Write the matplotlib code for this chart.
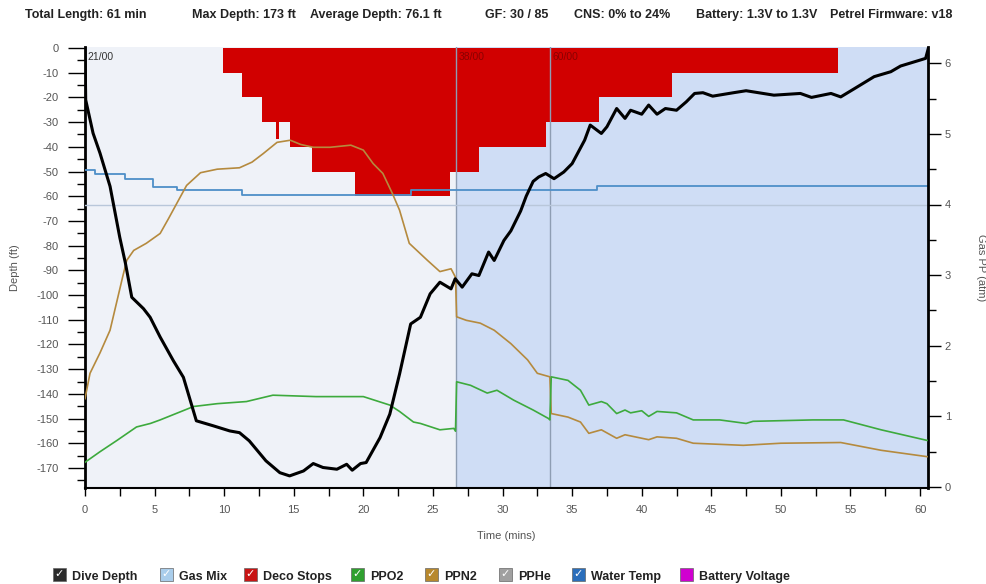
import matplotlib
matplotlib.use('Agg')
import matplotlib.pyplot as plt
from matplotlib.patches import Rectangle
from matplotlib.ticker import MultipleLocator

# Dive profile (time in minutes, depth in ft, negative = down)
depth_t = [0.0, 0.05, 0.58, 1.08, 1.8, 2.5, 2.9, 3.0, 3.36, 4.2, 4.68, 5.4, 6.35, 7.07,
           8.0, 9.2, 10.4, 11.1, 11.8, 13.0, 14.0, 14.7, 15.7, 16.4, 17.1, 18.1, 18.8,
           19.2, 19.8, 20.2, 21.2, 21.9, 22.6, 23.4, 24.1, 24.8, 25.5, 26.3, 26.6, 27.1,
           27.8, 28.3, 29.0, 29.4, 30.1, 30.6, 31.3, 31.7, 32.2, 32.6, 33.1, 33.7, 34.4,
           35.0, 35.9, 36.3, 37.1, 37.5, 38.2, 38.8, 39.2, 40.0, 40.5, 41.1, 41.7, 42.5,
           43.2, 43.8, 44.4, 45.1, 46.6, 47.5, 49.5, 51.4, 52.2, 53.6, 54.3, 55.3, 56.7,
           57.9, 58.6, 60.0, 60.4, 60.6]
depth_ft = [0, -21, -34.5, -42.6, -56, -76.7, -87, -90, -100.9, -105.5, -109, -117, -126.6,
            -133.3, -150.9, -152.9, -155, -155.7, -159, -167.1, -171.9, -173.2, -171.2,
            -168.2, -169.8, -170.5, -168.5, -170.9, -168.2, -167.8, -157.7, -148.2, -132,
            -111.7, -109, -99.5, -94.8, -97.5, -93.4, -96.8, -91.4, -92.1, -82.6, -86,
            -77.9, -74, -66, -60, -54, -52.2, -50.8, -52.9, -50.2, -46.8, -37.3, -31.2,
            -34.6, -31.9, -24.5, -28.5, -25.2, -26.8, -23.1, -26.8, -24.5, -25.2, -21.8,
            -18.4, -18.1, -19.5, -18.1, -17.3, -19.1, -18.4, -20, -18.4, -19.8, -16.4,
            -11.6, -9.6, -7.3, -4.9, -4.2, 0]

# Deco ceiling steps (start time, ceiling depth)
deco_t = [9.95, 11.27, 12.7, 13.7, 13.95, 14.75, 16.3, 19.4, 26.2, 28.3, 33.1, 36.9, 42.2, 54.1]
deco_ft = [-10, -20, -30, -37, -30, -40, -50, -60, -50, -40, -30, -20, -10, 0]

# Partial pressures (atm)
ppo2_t = [0, 1.08, 2.3, 3.7, 4.7, 5.4, 7.8, 9.5, 11.6, 13.5, 16.6, 20.0, 21.9, 22.6, 23.6,
          24.1, 25.5, 26.5, 26.62, 26.7, 27.7, 28.9, 29.6, 30.8, 32.2, 33.3, 33.4, 33.5,
          34.7, 35.6, 36.2, 37.1, 37.5, 38.2, 38.8, 39.2, 40.0, 40.5, 41.1, 42.5, 43.7,
          45.6, 47.5, 48.0, 52.3, 54.5, 57.2, 60.5]
ppo2 = [0.35, 0.5, 0.66, 0.85, 0.9, 0.95, 1.14, 1.18, 1.21, 1.30, 1.28, 1.28, 1.16, 1.07,
        0.92, 0.9, 0.81, 0.83, 0.79, 1.49, 1.44, 1.33, 1.37, 1.23, 1.09, 0.97, 0.95, 1.56,
        1.51, 1.37, 1.16, 1.21, 1.18, 1.04, 1.09, 1.05, 1.08, 1.0, 1.07, 1.05, 0.95, 0.95,
        0.9, 0.93, 0.95, 0.95, 0.81, 0.66]
ppn2_t = [0, 0.36, 1.08, 1.8, 2.7, 3.0, 3.5, 4.4, 5.4, 6.0, 6.8, 7.3, 8.3, 9.5, 11.1, 12.0,
          12.8, 13.8, 14.75, 15.5, 16.4, 17.6, 19.1, 20.0, 20.7, 21.4, 22.1, 22.6, 23.3,
          24.6, 25.5, 26.3, 26.62, 26.7, 27.4, 28.4, 29.4, 30.6, 31.8, 32.5, 33.4, 33.5,
          34.7, 35.6, 36.2, 37.1, 38.2, 38.8, 40.5, 41.1, 42.5, 43.7, 47.3, 50.0, 54.3,
          57.2, 60.5]
ppn2 = [1.25, 1.61, 1.9, 2.22, 2.97, 3.21, 3.35, 3.45, 3.59, 3.8, 4.09, 4.27, 4.45, 4.5,
        4.52, 4.6, 4.72, 4.88, 4.91, 4.85, 4.81, 4.81, 4.84, 4.77, 4.58, 4.44, 4.15, 3.92,
        3.45, 3.21, 3.05, 3.09, 2.97, 2.41, 2.36, 2.32, 2.22, 2.03, 1.80, 1.61, 1.56, 1.04,
        0.99, 0.92, 0.76, 0.81, 0.69, 0.74, 0.67, 0.71, 0.69, 0.62, 0.59, 0.62, 0.63,
        0.52, 0.43]

# Water temp trace (plotted on the depth scale)
temp_t = [0, 0.7, 2.9, 4.9, 6.6, 11.3, 23.4, 36.8, 60.6]
temp_v = [-49.5, -51.1, -52.9, -56.3, -57.6, -59.4, -57.6, -55.9, -55.9]

# Gas switches
gas_t = [0, 26.65, 33.4]
gas_names = ['21/00', '38/00', '60/00']
t_end = 60.57

header = ['Total Length: 61 min', 'Max Depth: 173 ft', 'Average Depth: 76.1 ft',
          'GF: 30 / 85', 'CNS: 0% to 24%', 'Battery: 1.3V to 1.3V', 'Petrel Firmware: v18']
header_x = [25, 192, 310, 485, 574, 696, 830]

legend_names = ['Dive Depth', 'Gas Mix', 'Deco Stops', 'PPO2', 'PPN2', 'PPHe',
                'Water Temp', 'Battery Voltage']
legend_cols = ['#2b2b2b', '#a9cdeb', '#c81414', '#2fa02f', '#b7882d', '#a0a0a0',
               '#2a6ebb', '#d000d0']
legend_x = [53, 160, 244, 351, 425, 499, 572, 680]

bold_font = ['Liberation Sans', 'DejaVu Sans']
plt.rcParams['font.family'] = ['Liberation Sans', 'DejaVu Sans']
plt.rcParams['axes.unicode_minus'] = False

W, H = 987, 584
fig = plt.figure(figsize=(W / 100, H / 100), dpi=100)
fig.patch.set_facecolor('white')
pos = [85 / W, 1 - 488 / H, (928 - 85) / W, (488 - 47) / H]

ax = fig.add_axes(pos)
ax2 = ax.twinx()
ax3 = ax.twinx()

# background per gas
ax.axvspan(gas_t[0], gas_t[1], color='#eff2f8', lw=0, zorder=0)
ax.axvspan(gas_t[1], t_end, color='#cfddf5', lw=0, zorder=0)

# deco stops
ax.fill_between(deco_t, deco_ft, 0, step='post', color='#d10000', lw=0, zorder=1)

# gas switch lines and names
for i in range(len(gas_t)):
    if i > 0:
        ax.axvline(gas_t[i], color='#8e9db3', lw=1, zorder=2)
    ax.text(gas_t[i] + 0.2, -1.5, gas_names[i], fontsize=7.5, va='top', ha='left',
            color='#333333' if i == 0 else '#8b0000', zorder=3)

ax.plot(temp_t, temp_v, color='#4e8fc8', lw=1.3, drawstyle='steps-post', zorder=3)

# gas PP lines on the right axis
ax2.axhline(4.0, color='#b9c7da', lw=1, zorder=1)
ax2.plot(ppn2_t, ppn2, color='#b58a3e', lw=1.2, zorder=3)
ax2.plot(ppo2_t, ppo2, color='#3daa3d', lw=1.2, zorder=3)

# depth on top
ax3.plot(depth_t, depth_ft, color='black', lw=2.2, zorder=4)

ax.set_xlim(0, t_end)
ax.set_ylim(-178.1, 0.4)
ax3.set_ylim(-178.1, 0.4)
ax2.set_ylim(-0.014, 6.23)
ax3.axis('off')

tick_col = '#555555'
ax.xaxis.set_major_locator(MultipleLocator(5))
ax.xaxis.set_minor_locator(MultipleLocator(2.5))
ax.yaxis.set_major_locator(MultipleLocator(10))
ax.yaxis.set_minor_locator(MultipleLocator(5))
ax2.yaxis.set_major_locator(MultipleLocator(1))
ax2.yaxis.set_minor_locator(MultipleLocator(0.5))
ax.tick_params(axis='y', which='major', length=12, width=1, color='black',
               labelsize=8, labelcolor=tick_col, pad=7)
ax.tick_params(axis='y', which='minor', length=6, width=1, color='black')
ax.tick_params(axis='x', which='both', length=6, width=1, color='black',
               labelsize=8, labelcolor=tick_col, pad=6)
ax2.tick_params(axis='y', which='major', length=9, width=1, color='black',
                labelsize=8, labelcolor=tick_col, pad=3)
ax2.tick_params(axis='y', which='minor', length=6, width=1, color='black')

for a in (ax, ax2):
    a.spines['top'].set_visible(False)
ax.spines['right'].set_visible(False)
ax.spines['left'].set_linewidth(2)
ax.spines['bottom'].set_linewidth(1.5)
ax2.spines['left'].set_visible(False)
ax2.spines['bottom'].set_visible(False)
ax2.spines['right'].set_linewidth(2)

ax.set_xlabel('Time (mins)', fontsize=8, color=tick_col, labelpad=12)
ax.set_ylabel('Depth (ft)', fontsize=8, color=tick_col, labelpad=12)
ax2.set_ylabel('Gas PP (atm)', fontsize=8, color=tick_col, rotation=270, labelpad=25)

# header line
for txt, x in zip(header, header_x):
    fig.text(x / W, 1 - 15 / H, txt, fontsize=9, fontweight='bold', family=bold_font,
             color='#222222', ha='left', va='center')

# legend with check boxes
for name, col, x in zip(legend_names, legend_cols, legend_x):
    fig.patches.append(Rectangle((x / W, 1 - 581 / H), 13 / W, 13 / H, transform=fig.transFigure,
                                 facecolor=col, edgecolor='#666666', lw=0.5))
    if name != 'Battery Voltage':
        fig.text((x + 6.5) / W, 1 - 574.5 / H, '\u2713', fontsize=8, fontweight='bold',
                 color='white', ha='center', va='center', family=['DejaVu Sans'])
    fig.text((x + 19) / W, 1 - 575.5 / H, name, fontsize=9, fontweight='bold',
             family=bold_font, color='#222222', ha='left', va='center_baseline')

fig.savefig('out.png', dpi=100)
